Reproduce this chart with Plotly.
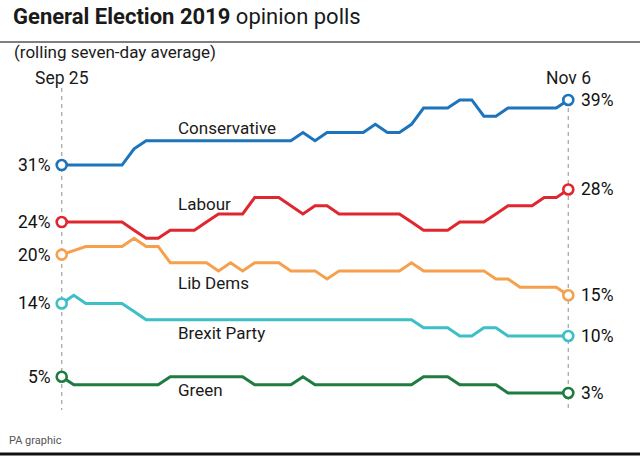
import plotly.graph_objects as go

W, H = 640, 456

days = list(range(43))  # Sep 25 .. Nov 6
start_label = "Sep 25"
end_label = "Nov 6"

conservative = [31, 31, 31, 31, 31, 31, 33, 34, 34, 34, 34, 34, 34, 34, 34, 34, 34, 34, 34, 34,
                35, 34, 35, 35, 35, 35, 36, 35, 35, 36, 38, 38, 38, 39, 39, 37, 37, 38, 38, 38,
                38, 38, 39]
labour = [24, 24, 24, 24, 24, 24, 23, 22, 22, 23, 23, 23, 24, 25, 25, 25, 27, 27, 27, 26,
          25, 26, 26, 25, 25, 25, 25, 25, 25, 24, 23, 23, 23, 24, 24, 24, 25, 26, 26, 26,
          27, 27, 28]
libdems = [20, 20.5, 21, 21, 21, 21, 22, 21, 21, 19, 19, 19, 19, 18, 19, 18, 19, 19, 19, 18,
           18, 18, 17, 18, 18, 18, 18, 18, 18, 19, 18, 18, 18, 18, 18, 18, 17, 17, 16, 16,
           16, 16, 15]
brexit = [14, 15, 14, 14, 14, 14, 13, 12, 12, 12, 12, 12, 12, 12, 12, 12, 12, 12, 12, 12,
          12, 12, 12, 12, 12, 12, 12, 12, 12, 12, 11, 11, 11, 10, 10, 11, 11, 10, 10, 10,
          10, 10, 10]
green = [5, 4, 4, 4, 4, 4, 4, 4, 4, 5, 5, 5, 5, 5, 5, 5, 4, 4, 4, 4,
         5, 4, 4, 4, 4, 4, 4, 4, 4, 4, 5, 5, 5, 4, 4, 4, 4, 3, 3, 3,
         3, 3, 3]

parties = ["Conservative", "Labour", "Lib Dems", "Brexit Party", "Green"]
series = [conservative, labour, libdems, brexit, green]
colors = ["#1c75bc", "#e0262f", "#f6a04d", "#3cbfc6", "#1f7b3f"]
name_pos = [(176, 128), (176, 204), (176, 283), (176, 333), (176, 390)]

FONT = "Roboto"
TXT = "#1a1a1a"

fig = go.Figure()
for vals, col in zip(series, colors):
    fig.add_trace(go.Scatter(x=days, y=vals, mode="lines",
                             line=dict(color=col, width=3), hoverinfo="skip"))
for vals, col in zip(series, colors):
    fig.add_trace(go.Scatter(x=[days[0], days[-1]], y=[vals[0], vals[-1]], mode="markers",
                             marker=dict(size=10, color="white", line=dict(color=col, width=2.6)),
                             hoverinfo="skip"))


def px(x):
    return x / W


def py(y):
    return 1 - y / H


ann = []
ann.append(dict(text="<b>General Election 2019</b> opinion polls", x=px(11), y=py(16),
                xanchor="left", yanchor="middle", font=dict(size=22, color=TXT)))
ann.append(dict(text="(rolling seven-day average)", x=px(12), y=py(52),
                xanchor="left", yanchor="middle", font=dict(size=17, color=TXT)))
ann.append(dict(text="PA graphic", x=px(7), y=py(440),
                xanchor="left", yanchor="middle", font=dict(size=11, color="#555555")))
ann.append(dict(text=start_label, x=days[0], xref="x", y=py(78), xanchor="center",
                yanchor="middle", font=dict(size=17.5, color=TXT)))
ann.append(dict(text=end_label, x=days[-1], xref="x", y=py(78), xanchor="center",
                yanchor="middle", font=dict(size=17.5, color=TXT)))
for vals in series:
    ann.append(dict(text=f"{vals[0]:g}%", x=-0.75, xref="x", y=vals[0], yref="y",
                    xanchor="right", yanchor="middle",
                    font=dict(size=17.5, color="#111111")))
    ann.append(dict(text=f"{vals[-1]:g}%", x=42.85, xref="x", y=vals[-1], yref="y",
                    xanchor="left", yanchor="middle",
                    font=dict(size=17.5, color="#111111")))
for name, (nx, ny) in zip(parties, name_pos):
    ann.append(dict(text=name, x=px(nx), y=py(ny), xanchor="left", yanchor="middle",
                    font=dict(size=17, color=TXT)))

for a in ann:
    a.setdefault("xref", "paper")
    a.setdefault("yref", "paper")
    a["showarrow"] = False

shapes = [
    dict(type="line", xref="paper", yref="paper", x0=0, x1=1, y0=py(42), y1=py(42),
         line=dict(color="#555555", width=1.5)),
    dict(type="line", xref="paper", yref="paper", x0=0, x1=1, y0=py(454), y1=py(454),
         line=dict(color="#111111", width=3)),
    dict(type="line", xref="x", yref="paper", x0=days[0], x1=days[0], y0=py(88), y1=py(410),
         line=dict(color="#aaaaaa", width=1.3, dash="4px,4px"), layer="below"),
    dict(type="line", xref="x", yref="paper", x0=days[-1], x1=days[-1], y0=py(108), y1=py(410),
         line=dict(color="#aaaaaa", width=1.3, dash="4px,4px"), layer="below"),
]

pxday = (568.3 - 61.7) / 42
x_lo = -61.7 / pxday
x_hi = 42 + (W - 568.3) / pxday
a_, b_ = 417.4, 8.14
y_hi = a_ / b_
y_lo = (a_ - H) / b_

fig.update_layout(
    width=W, height=H, margin=dict(l=0, r=0, t=0, b=0),
    paper_bgcolor="white", plot_bgcolor="white", showlegend=False,
    font=dict(family=FONT, color=TXT),
    xaxis=dict(range=[x_lo, x_hi], visible=False, fixedrange=True),
    yaxis=dict(range=[y_lo, y_hi], visible=False, fixedrange=True),
    annotations=ann, shapes=shapes,
)

fig.write_html("out.html", config={"displayModeBar": False},
               post_script="document.body.style.margin='0';document.body.style.overflow='hidden';")
